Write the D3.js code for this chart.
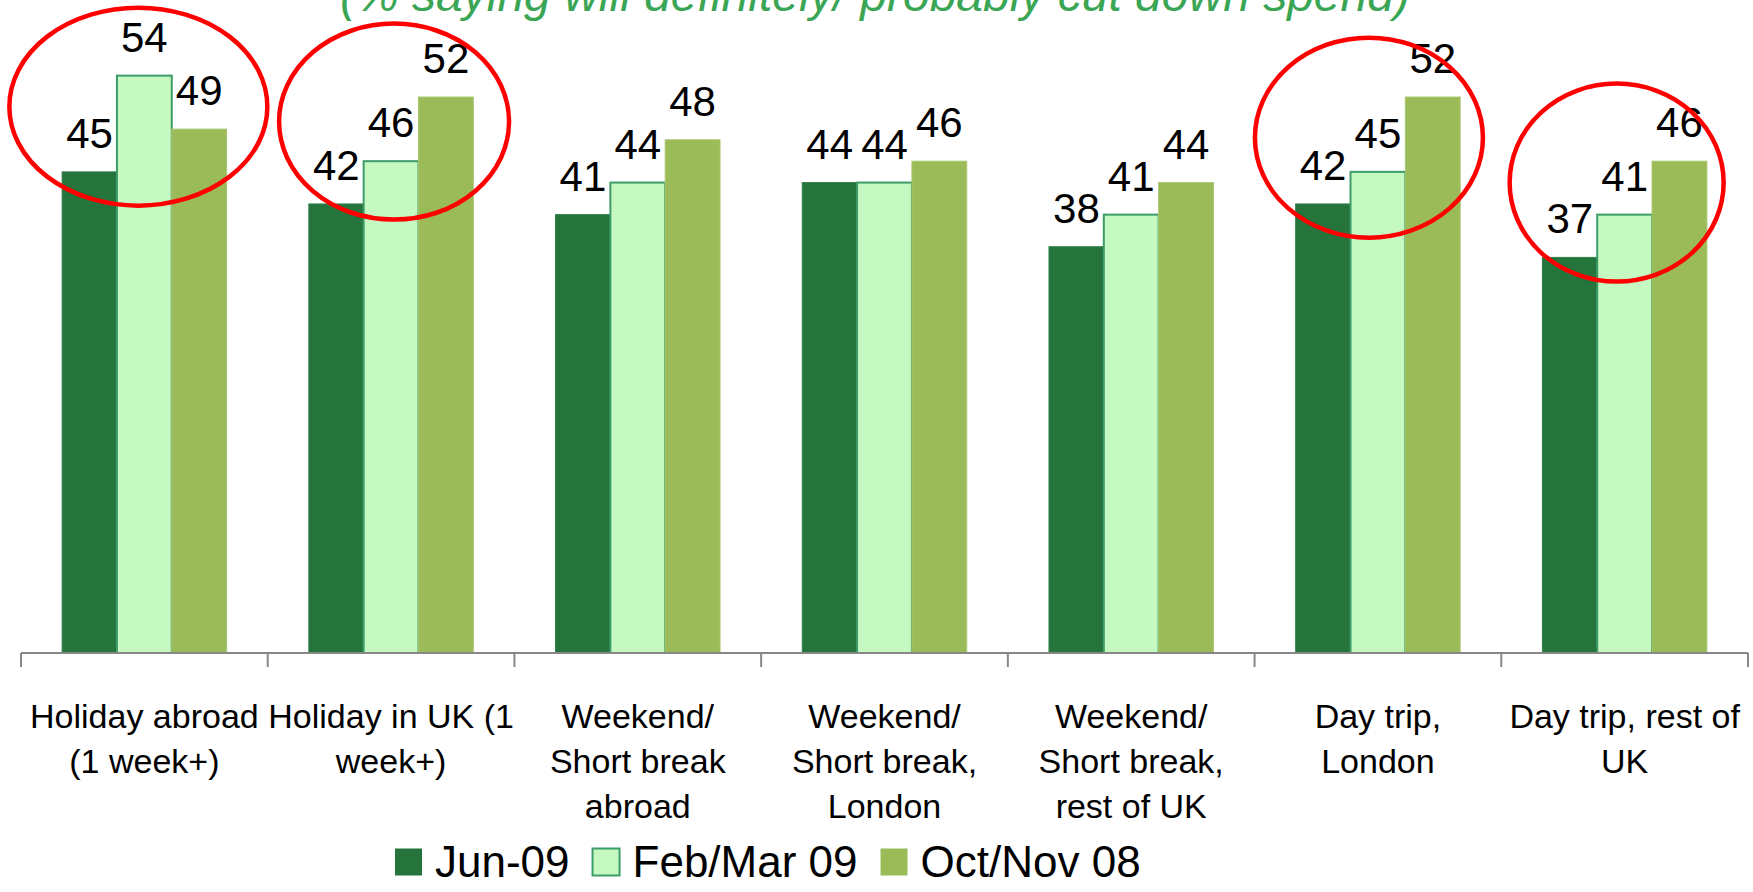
<!DOCTYPE html>
<html>
<head>
<meta charset="utf-8">
<script src="https://cdn.jsdelivr.net/npm/d3@7"></script>
<style>
    body { margin: 0; background: #fff; }
    svg { display: block; font-family: "Liberation Sans", Arial, sans-serif; }
</style>
</head>
<body>
<svg id="chart"></svg>
<script>
// categories, one line per entry after the split
const categories = [
    "Holiday abroad\n(1 week+)",
    "Holiday in UK (1\nweek+)",
    "Weekend/\nShort break\nabroad",
    "Weekend/\nShort break,\nLondon",
    "Weekend/\nShort break,\nrest of UK",
    "Day trip,\nLondon",
    "Day trip, rest of\nUK"
];
const seriesNames = ["Jun-09", "Feb/Mar 09", "Oct/Nov 08"];
const jun09 = [45, 42, 41, 44, 38, 42, 37];
const febMar09 = [54, 46, 44, 44, 41, 45, 41];
const octNov08 = [49, 52, 48, 46, 44, 52, 46];
const titleText = "(% saying will definitely/ probably cut down spend)";
// categories that get a red ring in the original
const circled = [0, 1, 5, 6];

const width = 1753, height = 892;
const colors = {"Jun-09": "#24743c", "Feb/Mar 09": "#c6f8c2", "Oct/Nov 08": "#9bbb59"};
const strokes = {"Jun-09": "#2f8048", "Feb/Mar 09": "#3d9c68", "Oct/Nov 08": "#a9c66e"};

// hand drawn rings: offset from band centre, centre value, radii
const rings = [
    {dx: -6, cy: 51.1, rx: 129, ry: 99},
    {dx: 3, cy: 49.7, rx: 115, ry: 98},
    {dx: -9, cy: 48.2, rx: 114, ry: 100},
    {dx: -8, cy: 44.0, rx: 107, ry: 99}
];

const series = seriesNames.map((name, i) => ({name: name, values: [jun09, febMar09, octNov08][i]}));

const svg = d3.select("#chart").attr("width", width).attr("height", height);

const x = d3.scaleBand().domain(categories).range([21, 1748]).paddingInner(0).paddingOuter(0);
const xSub = d3.scaleBand().domain(seriesNames).range([0, x.bandwidth()]).paddingInner(0).paddingOuter(0.75);
const y = d3.scaleLinear().domain([0, 60]).range([653, 11.5]);

// title, only its lower half is on the page
svg.append("text")
    .attr("x", 875)
    .attr("y", 11)
    .attr("text-anchor", "middle")
    .attr("font-size", 48)
    .attr("font-style", "italic")
    .attr("fill", "#3aa655")
    .text(titleText);

const groups = svg.append("g")
  .selectAll("g")
  .data(categories)
  .enter().append("g")
    .attr("transform", d => "translate(" + x(d) + ",0)");

groups.selectAll("rect")
    .data((d, i) => series.map(s => ({name: s.name, value: s.values[i]})))
    .enter().append("rect")
      .attr("x", d => xSub(d.name))
      .attr("y", d => y(d.value))
      .attr("width", xSub.bandwidth())
      .attr("height", d => y(0) - y(d.value))
      .attr("fill", d => colors[d.name])
      .attr("stroke", d => strokes[d.name])
      .attr("stroke-width", d => d.name === "Feb/Mar 09" ? 2 : 1);

groups.selectAll("text.value")
    .data((d, i) => series.map(s => ({name: s.name, value: s.values[i]})))
    .enter().append("text")
      .attr("class", "value")
      .attr("x", d => xSub(d.name) + xSub.bandwidth() / 2)
      .attr("y", d => y(d.value) - 24)
      .attr("text-anchor", "middle")
      .attr("font-size", 42)
      .attr("fill", "#000")
      .text(d => d.value);

// category axis, ticks sit between the groups
const axis = svg.append("g").attr("stroke", "#878787").attr("stroke-width", 2);
axis.append("line")
    .attr("x1", x.range()[0]).attr("x2", x.range()[1])
    .attr("y1", y(0)).attr("y2", y(0));
axis.selectAll("line.tick")
    .data(categories.map(c => x(c)).concat([x.range()[1]]))
    .enter().append("line")
      .attr("class", "tick")
      .attr("x1", d => d).attr("x2", d => d)
      .attr("y1", y(0)).attr("y2", y(0) + 14);

const labels = svg.append("g")
  .selectAll("text")
  .data(categories)
  .enter().append("text")
    .attr("text-anchor", "middle")
    .attr("font-size", 34)
    .attr("fill", "#000")
    .attr("transform", d => "translate(" + (x(d) + x.bandwidth() / 2) + ",728)");

labels.selectAll("tspan")
    .data(d => d.split("\n"))
    .enter().append("tspan")
      .attr("x", 0)
      .attr("y", (d, i) => i * 45)
      .text(d => d);

// red rings
svg.append("g")
  .selectAll("ellipse")
  .data(circled)
  .enter().append("ellipse")
    .attr("cx", (d, i) => x(categories[d]) + x.bandwidth() / 2 + rings[i].dx)
    .attr("cy", (d, i) => y(rings[i].cy))
    .attr("rx", (d, i) => rings[i].rx)
    .attr("ry", (d, i) => rings[i].ry)
    .attr("fill", "none")
    .attr("stroke", "#ff0000")
    .attr("stroke-width", 4.5);

// legend
const legend = svg.append("g").attr("transform", "translate(395,862)");
let lx = 0;
seriesNames.forEach(name => {
    const item = legend.append("g").attr("transform", "translate(" + lx + ",0)");
    item.append("rect")
        .attr("x", 0).attr("y", -13.5)
        .attr("width", 27).attr("height", 27)
        .attr("fill", colors[name])
        .attr("stroke", name === "Feb/Mar 09" ? strokes[name] : "none")
        .attr("stroke-width", 2);
    const t = item.append("text")
        .attr("x", 40).attr("y", 15)
        .attr("font-size", 44)
        .attr("fill", "#000")
        .text(name);
    lx += 40 + t.node().getComputedTextLength() + 23;
});
</script>
</body>
</html>
